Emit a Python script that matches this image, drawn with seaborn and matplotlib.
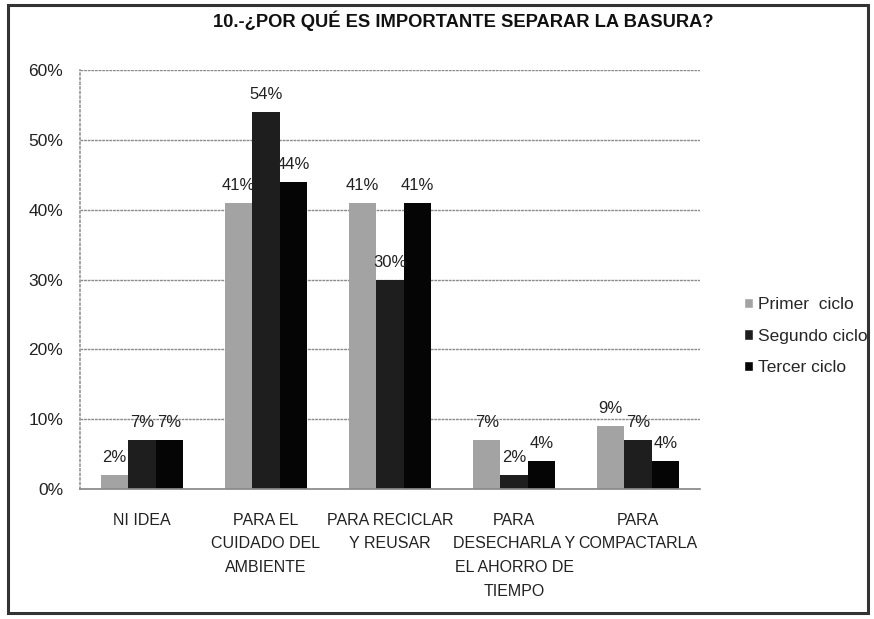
import numpy as np
import pandas as pd
import matplotlib
matplotlib.use("Agg")
import matplotlib.pyplot as plt
from matplotlib.patches import Rectangle
import seaborn as sns

categories = ["NI IDEA",
              "PARA EL\nCUIDADO DEL\nAMBIENTE",
              "PARA RECICLAR\nY REUSAR",
              "PARA\nDESECHARLA Y\nEL AHORRO DE\nTIEMPO",
              "PARA\nCOMPACTARLA"]
series = ["Primer  ciclo", "Segundo ciclo", "Tercer ciclo"]
primer = [2, 41, 41, 7, 9]
segundo = [7, 54, 30, 2, 7]
tercer = [7, 44, 41, 4, 4]
y_ticks = [0, 10, 20, 30, 40, 50, 60]

COLORS = ["#a3a3a3", "#1e1e1e", "#050505"]
FONT = "Liberation Sans"

df = pd.DataFrame({
    "categoria": categories * 3,
    "ciclo": [series[0]] * 5 + [series[1]] * 5 + [series[2]] * 5,
    "valor": primer + segundo + tercer,
})

sns.set_theme(style="white")
plt.rcParams["font.family"] = [FONT, "DejaVu Sans"]

fig = plt.figure(figsize=(8.74, 6.19), dpi=100)
ax = fig.add_axes([80 / 874, 1 - 489 / 619, 620 / 874, 419 / 619])

sns.barplot(data=df, x="categoria", y="valor", hue="ciclo", palette=COLORS,
            width=0.66, gap=0, saturation=1, ax=ax, legend=False,
            edgecolor="none", linewidth=0)

for cont in ax.containers:
    vals = [b.get_height() for b in cont]
    ax.bar_label(cont, labels=[f"{v:.0f}%" for v in vals], padding=7,
                 fontsize=12, color="#222222")

ax.set_ylim(0, 60)
ax.set_xlim(-0.5, 4.5)
ax.set_yticks(y_ticks)
ax.set_yticklabels([f"{t}%" for t in y_ticks], fontsize=12.5, color="#222222")
ax.tick_params(axis="y", pad=12, length=0)
ax.tick_params(axis="x", pad=17, length=0)
for lab in ax.get_xticklabels():
    lab.set_fontsize(11.5)
    lab.set_linespacing(1.72)
    lab.set_color("#222222")
    lab.set_verticalalignment("top")
ax.set_xlabel("")
ax.set_ylabel("")
ax.yaxis.grid(True, color="#8a8a8a", linestyle=(0, (2, 0.6)), linewidth=1)
ax.set_axisbelow(True)
for side in ["top", "right"]:
    ax.spines[side].set_visible(False)
ax.spines["left"].set_color("#9a9a9a")
ax.spines["left"].set_linestyle(":")
ax.spines["bottom"].set_color("#8a8a8a")

handles = [Rectangle((0, 0), 1, 1, facecolor=c) for c in COLORS]
fig.legend(handles, series, loc="center left",
           bbox_to_anchor=(728 / 874, 1 - 336 / 619), frameon=False,
           fontsize=12.5, handlelength=0.55, handleheight=0.55,
           handletextpad=0.3, labelspacing=0.95)

fig.text(463 / 874, 1 - 21 / 619, "10.-¿POR QUÉ ES IMPORTANTE SEPARAR LA BASURA?",
         ha="center", va="center", fontsize=13.2, fontweight="bold", color="#111111")

# marco exterior del grafico
fig.patches.append(Rectangle((8 / 874, 6 / 619), 860 / 874, 608 / 619,
                             transform=fig.transFigure, fill=False,
                             edgecolor="#333333", linewidth=2.2))

fig.savefig("out.png", dpi=100, facecolor="white")
